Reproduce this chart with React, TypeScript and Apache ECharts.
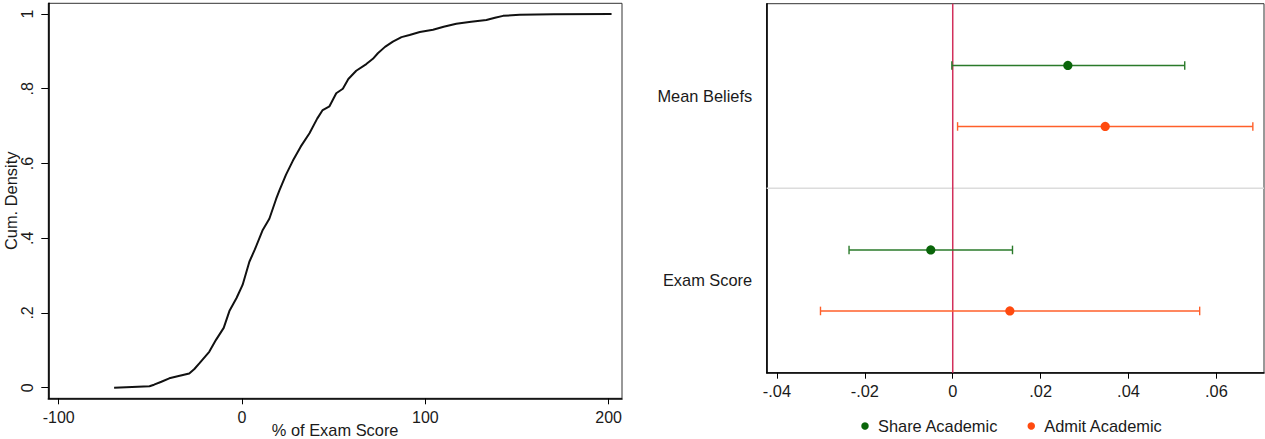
import React, { useEffect, useRef } from "react";
import * as echarts from "echarts";

// ---- Left panel: cumulative density of % of exam score ----
const cdfX = [
  -69.8, -60, -50.5, -48, -44, -39.7, -34, -28.8, -26, -23.3, -17.9, -14.2, -10, -6.9, -3, 0.3, 4.0, 7,
  11.3, 14.9, 18.6, 20.4, 24, 27.7, 32, 36.8, 41, 44.0, 47.7, 51.4, 55.0, 58, 62.3, 67.8, 71.4, 74.1,
  78, 82.3, 87, 91.4, 97, 104.2, 110, 116.9, 125, 133.3, 138, 142.4, 151.5, 170, 201.6,
];
const cdfY = [
  0.0, 0.002, 0.004, 0.008, 0.016, 0.025, 0.032, 0.038, 0.05, 0.065, 0.096, 0.128, 0.16, 0.205, 0.24,
  0.275, 0.337, 0.37, 0.422, 0.452, 0.505, 0.528, 0.57, 0.607, 0.645, 0.681, 0.72, 0.743, 0.753, 0.788,
  0.8, 0.826, 0.848, 0.866, 0.88, 0.895, 0.912, 0.926, 0.938, 0.944, 0.952, 0.958, 0.966, 0.974, 0.979,
  0.984, 0.99, 0.995, 0.998, 0.999, 1.0,
];
const cdfXTicks = [-100, 0, 100, 200];
const cdfYTicks = [0, 0.2, 0.4, 0.6, 0.8, 1];

// ---- Right panel: coefficient plot ----
const coefCategories = ["Mean Beliefs", "Exam Score"];
const categoryPos = [0.5, 1.5];
const categoryDivider = 1;
const shareEst = [0.0262, -0.005];
const shareLow = [-0.0002, -0.0236];
const shareHigh = [0.0528, 0.0136];
const admitEst = [0.0347, 0.013];
const admitLow = [0.0011, -0.0301];
const admitHigh = [0.0683, 0.0562];
const coefXTicks = [-0.04, -0.02, 0, 0.02, 0.04, 0.06];
const coefXMin = -0.04234;
const coefXMax = 0.07084;
const seriesNames = ["Share Academic", "Admit Academic"];

const FONT = "'Liberation Sans', Arial, Helvetica, sans-serif";
const TXT = "#1a1a1a";
const GREEN = "#0a650a";
const GREEN_LINE = "#2a7a2a";
const ORANGE = "#ff4a0f";
const ORANGE_LINE = "#ff5f2a";
const RED = "#d2305c";

function fmtY(v: number) {
  if (v === 0) return "0";
  if (v === 1) return "1";
  return String(v).replace(/^0\./, ".");
}
function fmtCoef(v: number) {
  if (Math.abs(v) < 1e-9) return "0";
  const s = Math.abs(v).toFixed(2).replace(/^0/, "");
  return (v < 0 ? "-" : "") + s;
}
function fmtCat(v: number) {
  const i = categoryPos.findIndex((p) => Math.abs(p - v) < 1e-6);
  return i >= 0 ? coefCategories[i] : "";
}

function makeErrorBar(offset: number, lineColor: string, dotColor: string) {
  return (params: any, api: any) => {
    const low = api.value(0);
    const high = api.value(1);
    const est = api.value(2);
    const cat = api.value(3);
    const p1 = api.coord([low, cat]);
    const p2 = api.coord([high, cat]);
    const pe = api.coord([est, cat]);
    const y = p1[1] + offset;
    const cap = 4.3;
    return {
      type: "group",
      children: [
        { type: "line", shape: { x1: p1[0], y1: y, x2: p2[0], y2: y }, style: { stroke: lineColor, lineWidth: 1.4 } },
        { type: "line", shape: { x1: p1[0], y1: y - cap, x2: p1[0], y2: y + cap }, style: { stroke: lineColor, lineWidth: 1.4 } },
        { type: "line", shape: { x1: p2[0], y1: y - cap, x2: p2[0], y2: y + cap }, style: { stroke: lineColor, lineWidth: 1.4 } },
        { type: "circle", shape: { cx: pe[0], cy: y, r: 4.6 }, style: { fill: dotColor } },
      ],
    };
  };
}

export default function App() {
  const ref = useRef<HTMLDivElement>(null);
  useEffect(() => {
    if (!ref.current) return;
    const chart = echarts.init(ref.current, undefined, { renderer: "svg" });
    const shareData = coefCategories.map((_, i) => [shareLow[i], shareHigh[i], shareEst[i], categoryPos[i]]);
    const admitData = coefCategories.map((_, i) => [admitLow[i], admitHigh[i], admitEst[i], categoryPos[i]]);
    chart.setOption({
      animation: false,
      backgroundColor: "#fff",
      textStyle: { fontFamily: FONT, color: TXT },
      grid: [
        { left: 48.3, top: 3.3, width: 573.7, height: 395, show: true, borderColor: "#333", borderWidth: 1, containLabel: false, outerBoundsMode: "none" },
        { left: 766.7, top: 3.7, width: 497.3, height: 369, show: true, borderColor: "#333", borderWidth: 1, containLabel: false, outerBoundsMode: "none" },
      ],
      legend: {
        data: seriesNames.map((n) => ({ name: n, icon: "circle" })),
        left: 861.25,
        top: 418,
        padding: 0,
        itemWidth: 7.5,
        itemHeight: 7.5,
        itemGap: 29.25,
        selectedMode: false,
        textStyle: { fontFamily: FONT, fontSize: 16.4, color: TXT, padding: [0, 0, 0, 4.25] },
      },
      xAxis: [
        {
          gridIndex: 0,
          type: "value",
          min: -105.7,
          max: 207.3,
          name: "% of Exam Score",
          nameLocation: "middle",
          nameGap: 23.5,
          nameMoveOverlap: false,
          nameTextStyle: { fontFamily: FONT, fontSize: 16.4, color: TXT },
          axisLine: { show: true, onZero: false, lineStyle: { color: "#000", width: 1.6 } },
          axisTick: { show: true, length: 6, customValues: cdfXTicks, lineStyle: { color: "#000", width: 1 } },
          axisLabel: { customValues: cdfXTicks, margin: 11, fontSize: 16, color: TXT, fontFamily: FONT },
          splitLine: { show: false },
        },
        {
          gridIndex: 1,
          type: "value",
          min: coefXMin,
          max: coefXMax,
          axisLine: { show: true, onZero: false, lineStyle: { color: "#000", width: 1.6 } },
          axisTick: { show: true, length: 6, customValues: coefXTicks, lineStyle: { color: "#000", width: 1 } },
          axisLabel: { customValues: coefXTicks, margin: 10, fontSize: 16.4, color: TXT, fontFamily: FONT, formatter: fmtCoef },
          splitLine: { show: false },
        },
      ],
      yAxis: [
        {
          gridIndex: 0,
          type: "value",
          min: -0.0284,
          max: 1.0286,
          name: "Cum. Density",
          nameLocation: "middle",
          nameGap: 29,
          nameMoveOverlap: false,
          nameTextStyle: { fontFamily: FONT, fontSize: 16.4, color: TXT },
          axisLine: { show: true, onZero: false, lineStyle: { color: "#000", width: 1.6 } },
          axisTick: { show: true, length: 7, customValues: cdfYTicks, lineStyle: { color: "#000", width: 1 } },
          axisLabel: { customValues: cdfYTicks, rotate: 90, margin: 12.5, fontSize: 16, color: TXT, fontFamily: FONT, formatter: fmtY },
          splitLine: { show: false },
        },
        {
          gridIndex: 1,
          type: "value",
          inverse: true,
          min: 0,
          max: 2,
          axisLine: { show: true, onZero: false, lineStyle: { color: "#000", width: 1.6 } },
          axisTick: { show: false },
          axisLabel: { customValues: categoryPos, margin: 14.5, fontSize: 16.4, color: TXT, fontFamily: FONT, formatter: fmtCat },
          splitLine: { show: false },
        },
      ],
      series: [
        {
          type: "line",
          xAxisIndex: 0,
          yAxisIndex: 0,
          data: cdfX.map((x, i) => [x, cdfY[i]]),
          showSymbol: false,
          symbol: "none",
          lineStyle: { color: "#111", width: 2 },
          silent: true,
        },
        {
          type: "line",
          xAxisIndex: 1,
          yAxisIndex: 1,
          data: [[coefXMin, categoryDivider], [coefXMax, categoryDivider]],
          showSymbol: false,
          symbol: "none",
          lineStyle: { color: "#dcdcdc", width: 1.5 },
          silent: true,
          z: 1,
        },
        {
          type: "line",
          xAxisIndex: 1,
          yAxisIndex: 1,
          data: [[0, 0], [0, 2]],
          showSymbol: false,
          symbol: "none",
          lineStyle: { color: RED, width: 1.5 },
          silent: true,
          z: 2,
        },
        {
          type: "custom",
          name: seriesNames[0],
          xAxisIndex: 1,
          yAxisIndex: 1,
          itemStyle: { color: GREEN },
          renderItem: makeErrorBar(-30.5, GREEN_LINE, GREEN),
          data: shareData,
          z: 3,
        },
        {
          type: "custom",
          name: seriesNames[1],
          xAxisIndex: 1,
          yAxisIndex: 1,
          itemStyle: { color: ORANGE },
          renderItem: makeErrorBar(30.5, ORANGE_LINE, ORANGE),
          data: admitData,
          z: 3,
        },
      ],
    });
    return () => chart.dispose();
  }, []);
  return (
    <div
      ref={ref}
      style={{ position: "absolute", left: 0, top: 0, width: 1265, height: 439, background: "#fff" }}
    />
  );
}
